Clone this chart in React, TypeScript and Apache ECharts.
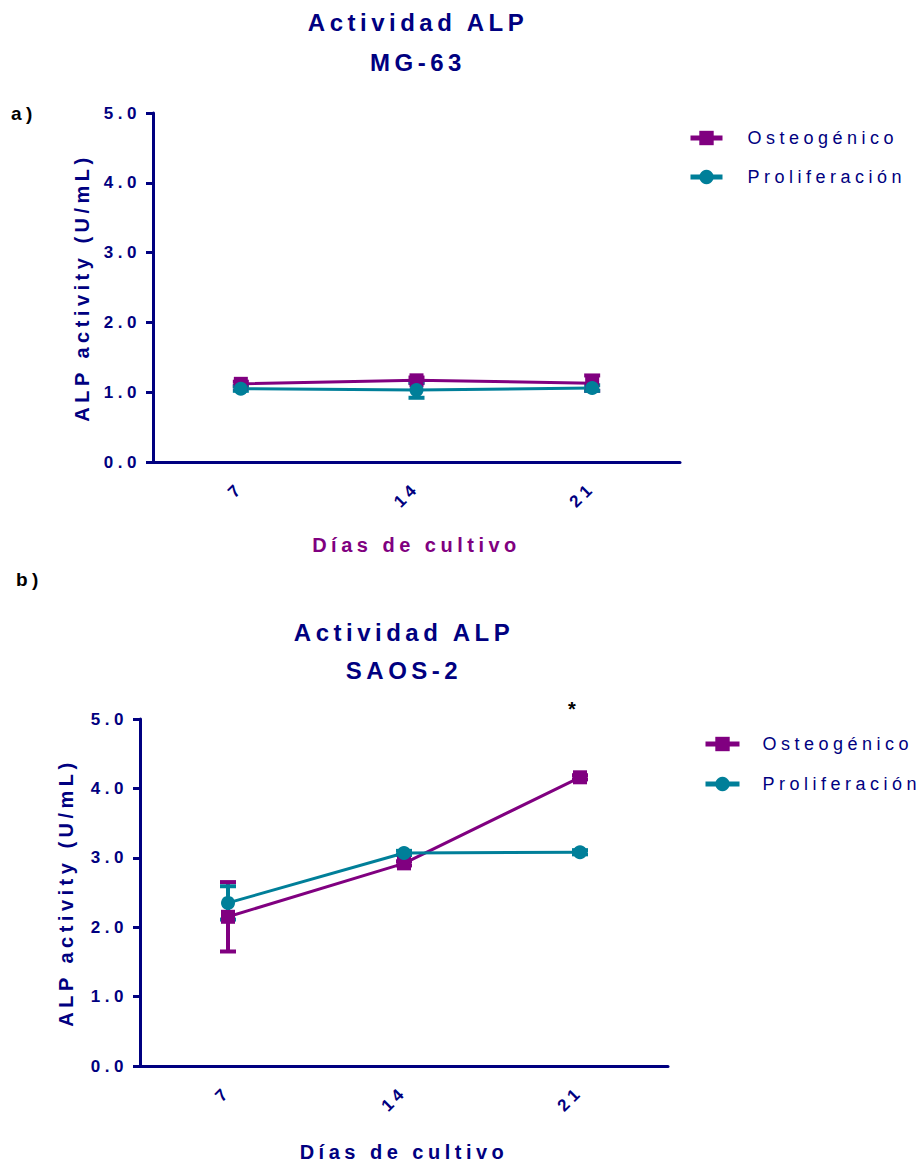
import React, { useEffect, useRef } from 'react';
import * as echarts from 'echarts';

const days = ['7', '14', '21'];
const seriesNames = ['Osteogénico', 'Proliferación'];

// MG-63
const mgOsteo = [1.12, 1.17, 1.13];
const mgOsteoSd = [0.03, 0.04, 0.11];
const mgProl = [1.05, 1.03, 1.06];
const mgProlSd = [0.03, 0.11, 0.04];

// SAOS-2
const saosOsteo = [2.15, 2.92, 4.16];
const saosOsteoSd = [0.5, 0.03, 0.03];
const saosProl = [2.35, 3.07, 3.08];
const saosProlSd = [0.24, 0.03, 0.03];

const NAVY = '#000080';
const PURPLE = '#800080';
const TEAL = '#007F99';
const FONT = "'Liberation Sans', Arial, sans-serif";

function errSeries(name: string, means: number[], sds: number[], color: string, idx: number) {
  return {
    type: 'custom',
    name,
    xAxisIndex: idx,
    yAxisIndex: idx,
    silent: true,
    z: 3,
    data: means.map((m, i) => [i, m + sds[i], m - sds[i]]),
    encode: { x: 0, y: [1, 2] },
    renderItem: (params: any, api: any) => {
      const i = api.value(0);
      const top = api.coord([i, api.value(1)]);
      const bot = api.coord([i, api.value(2)]);
      const cw = 16;
      const th = 4;
      return {
        type: 'group',
        children: [
          { type: 'rect', shape: { x: top[0] - 2, y: top[1], width: 4, height: bot[1] - top[1] }, style: { fill: color } },
          { type: 'rect', shape: { x: top[0] - cw / 2, y: top[1] - th / 2, width: cw, height: th }, style: { fill: color } },
          { type: 'rect', shape: { x: bot[0] - cw / 2, y: bot[1] - th / 2, width: cw, height: th }, style: { fill: color } },
        ],
      };
    },
  };
}

function lineSeries(name: string, values: number[], color: string, symbol: string, idx: number) {
  return {
    type: 'line',
    name,
    xAxisIndex: idx,
    yAxisIndex: idx,
    data: values,
    symbol,
    symbolSize: 14,
    z: 4,
    lineStyle: { color, width: 3 },
    itemStyle: { color },
  };
}

function xAxis(idx: number, nameColor: string, nameGap: number) {
  return {
    type: 'category',
    gridIndex: idx,
    data: days,
    boundaryGap: true,
    name: 'Días de cultivo',
    nameLocation: 'middle',
    nameGap,
    nameTextStyle: { color: nameColor, fontSize: 20, fontWeight: 'bold', fontFamily: FONT },
    axisLine: { lineStyle: { color: NAVY, width: 3 } },
    axisTick: { alignWithLabel: true, length: 8, lineStyle: { color: NAVY, width: 3 } },
    axisLabel: { rotate: 45, margin: 23, color: NAVY, fontSize: 17, fontWeight: 'bold', fontFamily: FONT },
    splitLine: { show: false },
  };
}

function yAxis(idx: number, nameGap: number) {
  return {
    type: 'value',
    gridIndex: idx,
    min: 0,
    max: 5,
    interval: 1,
    name: 'ALP activity (U/mL)',
    nameLocation: 'middle',
    nameGap,
    nameRotate: 90,
    nameTextStyle: { color: NAVY, fontSize: 20, fontWeight: 'bold', fontFamily: FONT },
    axisLine: { show: true, lineStyle: { color: NAVY, width: 3 } },
    axisTick: { show: true, length: 7, lineStyle: { color: NAVY, width: 3 } },
    axisLabel: {
      margin: 12,
      color: NAVY,
      fontSize: 17,
      fontWeight: 'bold',
      fontFamily: FONT,
      formatter: (v: number) => v.toFixed(1),
    },
    splitLine: { show: false },
  };
}

function legend(left: number, top: number, itemWidth: number, textPad: number, gap: number) {
  return {
    orient: 'vertical',
    left,
    top,
    padding: 0,
    data: seriesNames,
    itemWidth,
    itemHeight: 18,
    itemGap: gap,
    lineStyle: { width: 5 },
    textStyle: { color: NAVY, fontSize: 18, fontFamily: FONT, padding: [0, 0, 0, textPad] },
  };
}

export default function App() {
  const ref = useRef<HTMLDivElement>(null);

  useEffect(() => {
    if (!ref.current) return;
    const chart = echarts.init(ref.current, undefined, { renderer: 'svg' });
    chart.setOption({
      animation: false,
      backgroundColor: '#ffffff',
      textStyle: { fontFamily: FONT },
      title: [
        {
          text: 'Actividad ALP\nMG-63',
          left: 413,
          top: -3,
          textAlign: 'center',
          textStyle: { color: NAVY, fontSize: 24, fontWeight: 'bold', lineHeight: 40, fontFamily: FONT },
        },
        {
          text: 'Actividad ALP\nSAOS-2',
          left: 399,
          top: 608,
          textAlign: 'center',
          textStyle: { color: NAVY, fontSize: 24, fontWeight: 'bold', lineHeight: 38, fontFamily: FONT },
        },
      ],
      legend: [legend(688, 129, 32, 20, 21), legend(703, 735, 34, 18, 22)],
      grid: [
        { left: 153, top: 113, width: 527, height: 349, outerBoundsMode: 'none' },
        { left: 140, top: 719, width: 528, height: 347, outerBoundsMode: 'none' },
      ],
      xAxis: [xAxis(0, PURPLE, 73), xAxis(1, NAVY, 76)],
      yAxis: [yAxis(0, 61), yAxis(1, 64)],
      series: [
        errSeries('err-o-0', mgOsteo, mgOsteoSd, PURPLE, 0),
        lineSeries('Osteogénico', mgOsteo, PURPLE, 'rect', 0),
        errSeries('err-p-0', mgProl, mgProlSd, TEAL, 0),
        lineSeries('Proliferación', mgProl, TEAL, 'circle', 0),
        errSeries('err-o-1', saosOsteo, saosOsteoSd, PURPLE, 1),
        lineSeries('Osteogénico', saosOsteo, PURPLE, 'rect', 1),
        errSeries('err-p-1', saosProl, saosProlSd, TEAL, 1),
        lineSeries('Proliferación', saosProl, TEAL, 'circle', 1),
      ],
      graphic: [
        { type: 'text', left: 11, top: 104, style: { text: 'a)', fill: '#000', font: `bold 19px ${FONT}` } },
        { type: 'text', left: 16, top: 570, style: { text: 'b)', fill: '#000', font: `bold 19px ${FONT}` } },
        { type: 'text', left: 568, top: 699, style: { text: '*', fill: '#000', font: `bold 20px ${FONT}` } },
      ],
    });
    return () => chart.dispose();
  }, []);

  return (
    <div
      ref={ref}
      style={{ position: 'absolute', left: 0, top: 0, width: 923, height: 1163, letterSpacing: '4.5px' }}
    />
  );
}
